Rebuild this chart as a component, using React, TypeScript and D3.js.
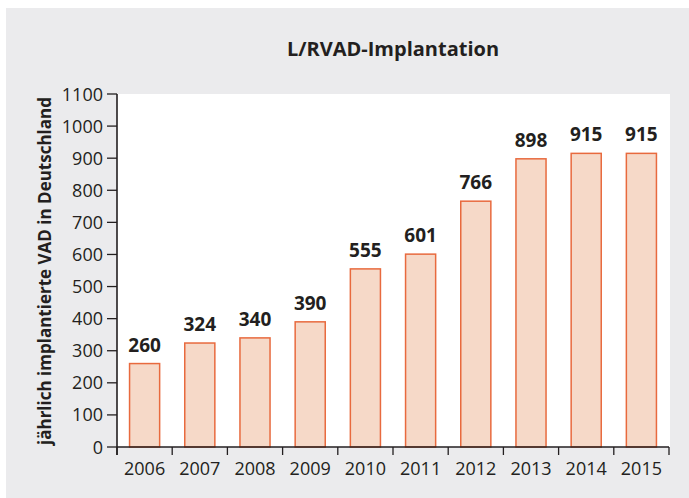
import React from "react";
import * as d3 from "d3";

const years = ["2006", "2007", "2008", "2009", "2010", "2011", "2012", "2013", "2014", "2015"];
const values = [260, 324, 340, 390, 555, 601, 766, 898, 915, 915];
const yTicks = [0, 100, 200, 300, 400, 500, 600, 700, 800, 900, 1000, 1100];
const title = "L/RVAD-Implantation";
const yLabel = "jährlich implantierte VAD in Deutschland";

const W = 689;
const H = 498;
const plot = { left: 117, right: 669, top: 94, bottom: 447 };
const font = "'Open Sans', 'Noto Sans', sans-serif";
const textColor = "#231f20";

export default function App() {
  const x = d3.scaleBand<string>().domain(years).range([plot.left, plot.right]).padding(0);
  const y = d3.scaleLinear().domain([0, 1100]).range([plot.bottom, plot.top]);
  const bw = x.bandwidth() * 0.545;
  const boundaries = [...years.map((yr) => x(yr) as number), plot.right];

  return (
    <div style={{ position: "fixed", left: 0, top: 0 }}>
      <svg width={W} height={H} style={{ display: "block" }}>
        <rect x={6} y={8} width={W - 6} height={H - 8} fill="#ebebed" />
        <rect x={plot.left} y={plot.top} width={670 - plot.left} height={plot.bottom - plot.top} fill="#ffffff" />
        <text x={393} y={56} textAnchor="middle" fontFamily={font} fontWeight={700} fontSize={20} fill={textColor}>
          {title}
        </text>
        <text
          transform={`translate(51,${271}) rotate(-90)`}
          textAnchor="middle"
          fontFamily={font}
          fontWeight={700}
          fontSize={17}
          fill={textColor}
        >
          {yLabel}
        </text>
        {values.map((v, i) => {
          const cx = (x(years[i]) as number) + x.bandwidth() / 2;
          return (
            <g key={years[i]}>
              <rect
                x={cx - bw / 2}
                y={y(v)}
                width={bw}
                height={plot.bottom - y(v)}
                fill="#f6d9c8"
                stroke="#e86a3e"
                strokeWidth={1.5}
              />
              <text x={cx} y={y(v) - 12} textAnchor="middle" fontFamily={font} fontWeight={700} fontSize={19} fill={textColor}>
                {v}
              </text>
              <text x={cx} y={475} textAnchor="middle" fontFamily={font} fontSize={18} fill={textColor}>
                {years[i]}
              </text>
            </g>
          );
        })}
        {/* y axis */}
        <line x1={plot.left} x2={plot.left} y1={plot.top} y2={455} stroke="#231f20" strokeWidth={1.6} />
        {yTicks.map((t) => (
          <g key={t}>
            <line x1={107} x2={plot.left} y1={y(t)} y2={y(t)} stroke="#231f20" strokeWidth={1.3} />
            <text x={103} y={y(t) + 6.5} textAnchor="end" fontFamily={font} fontSize={18} fill={textColor}>
              {t}
            </text>
          </g>
        ))}
        {/* x axis */}
        <line x1={plot.left} x2={plot.right} y1={plot.bottom} y2={plot.bottom} stroke="#231f20" strokeWidth={1.6} />
        {boundaries.map((b, i) => (
          <line key={i} x1={b} x2={b} y1={plot.bottom} y2={455} stroke="#231f20" strokeWidth={1.3} />
        ))}
      </svg>
    </div>
  );
}
